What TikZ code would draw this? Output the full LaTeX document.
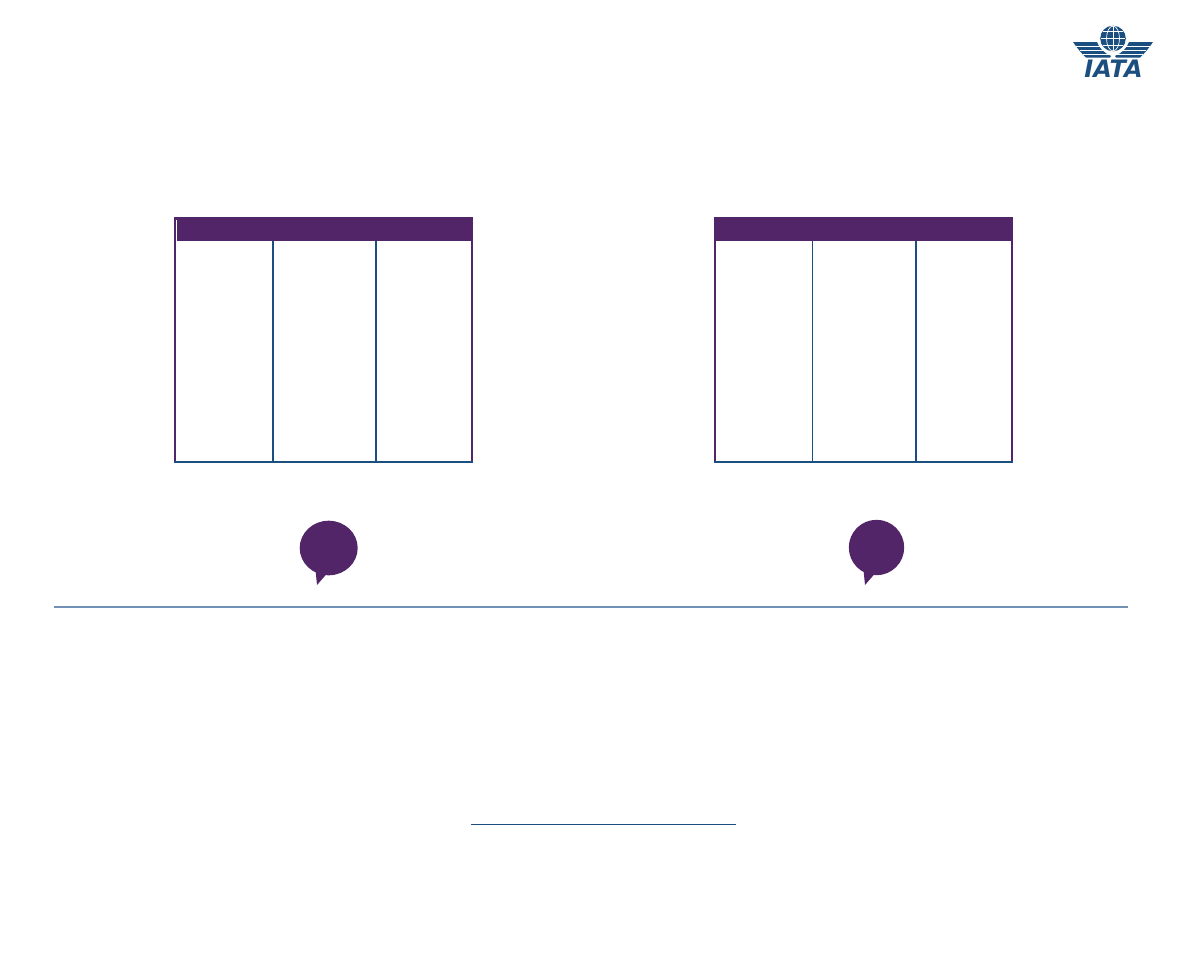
\documentclass[tikz,border=0pt]{standalone}
\usepackage{fontspec}
\setmainfont{Liberation Sans}
\newfontfamily\logofont{DejaVu Sans}
\definecolor{iatapurple}{HTML}{512567}
\definecolor{iatablue}{HTML}{1B4F80}
\definecolor{rulecol}{HTML}{7391B6}
\tikzset{
  hline/.style={draw=iatablue,line width=2pt},
  pline/.style={draw=iatapurple,line width=2pt},
  bubble/.style={fill=iatapurple,draw=none},
  logoblue/.style={fill=iatablue,draw=none},
  globeline/.style={draw=white,line width=0.7pt},
  wingstripe/.style={draw=white,line width=0.8pt},
  wing/.pic={
    \fill[logoblue] (0,0) -- (24,0) .. controls (26,6) and (31,11) .. (38,14) -- (37,15.5) -- (13,15.5) .. controls (9,12) and (4,6) .. cycle;
    \draw[wingstripe] (3,4.3) -- (27,4.3);
    \draw[wingstripe] (7,8.6) -- (32,8.6);
    \draw[wingstripe] (10,12.2) -- (37,12.2);
  }
}
\begin{document}
\begin{tikzpicture}[x=1pt,y=-1pt]
\useasboundingbox (0,0) rectangle (1188,972);
% table 1
\fill[iatapurple] (174,217) rectangle (473,241);
\fill[white] (176,220) rectangle (177,241);
\draw[pline] (175,241) -- (175,461);
\draw[pline] (472,241) -- (472,461);
\draw[hline] (273,241) -- (273,461);
\draw[hline] (376,241) -- (376,461);
\draw[hline] (174,462) -- (473,462);
% table 2
\fill[iatapurple] (714,217) rectangle (1013,241);
\draw[pline] (715,241) -- (715,461);
\draw[pline] (1012,241) -- (1012,461);
\draw[draw=iatablue,line width=1pt] (812.7,241) -- (812.7,461);
\draw[hline] (916,241) -- (916,461);
\draw[hline] (714,462) -- (1013,462);
% bubbles
\fill[bubble] (328.7,548) ellipse [x radius=29,y radius=27.3];
\fill[bubble] (315.5,570) -- (317,585) -- (327,573.5) -- cycle;
\fill[bubble] (876.5,547.5) ellipse [x radius=27.7,y radius=27.7];
\fill[bubble] (863.5,570) -- (865,585) -- (875,573.5) -- cycle;
% rules
\draw[draw=rulecol,line width=1.6pt] (54,607) -- (1128,607);
\draw[draw=iatablue,line width=1pt] (471,824.5) -- (736,824.5);
% logo
\pic at (1073,42) {wing};
\pic[xscale=-1] at (1153,42) {wing};
\fill[white] (1113,38.5) circle [radius=14.6];
\fill[logoblue] (1113,38.5) circle [radius=12.8];
\draw[globeline] (1113,26) -- (1113,51);
\draw[globeline] (1113,38.5) ellipse [x radius=6.5,y radius=12.4];
\draw[globeline] (1101,38.5) -- (1125,38.5);
\draw[globeline] (1103,31.5) -- (1123,31.5);
\draw[globeline] (1103,45.5) -- (1123,45.5);
\node[text=iatablue,font=\logofont\fontsize{24}{24}\selectfont\bfseries\itshape,inner sep=0pt,anchor=center] (logotext) at (1113.5,68.5) {IATA};
\end{tikzpicture}
\end{document}
